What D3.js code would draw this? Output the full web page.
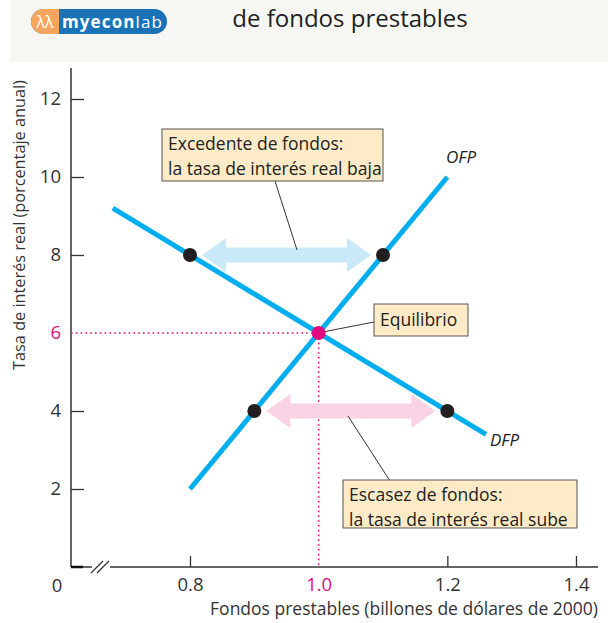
<!DOCTYPE html>
<html>
<head>
<meta charset="utf-8">
<script src="https://cdn.jsdelivr.net/npm/d3@7"></script>
<style>
  body { margin: 0; background: #fff; }
  svg text { font-family: "Open Sans", "DejaVu Sans", sans-serif; }
</style>
</head>
<body>
<svg id="chart" width="608" height="623"></svg>
<script>
// axis ticks
var rateTicks = [2, 4, 6, 8, 10, 12];
var fundTicks = [0.8, 1.0, 1.2, 1.4];

// demand (DFP) and supply (OFP) of loanable funds, end points
var dfpFunds = [0.68, 1.26];
var dfpRates = [9.2, 3.4];
var ofpFunds = [0.8, 1.2];
var ofpRates = [2, 10];

// equilibrium
var eqFunds = 1.0;
var eqRate = 6;

// surplus at 8%, shortage at 4%
var surplusFunds = [0.8, 1.1];
var surplusRate = 8;
var shortageFunds = [0.9, 1.2];
var shortageRate = 4;

var blue = '#00aeef', pink = '#e5097f';

var svg = d3.select('#chart');

var x = d3.scaleLinear().domain([0.8, 1.4]).range([190, 576]);
var y = d3.scaleLinear().domain([0, 12]).range([567, 99]);
var x0 = 71;

// header band
svg.append('rect').attr('x', 10).attr('y', 0).attr('width', 598).attr('height', 62).attr('fill', '#f6f7f3');

// logo
svg.append('rect').attr('x', 31).attr('y', 9).attr('width', 136).attr('height', 25).attr('rx', 12.5).attr('fill', '#1a73b7');
svg.append('path').attr('d', 'M59,9 H43.5 A12.5,12.5 0 0 0 43.5,34 H59 Z').attr('fill', '#f6a55e');
svg.append('text').attr('x', 45).attr('y', 28).attr('text-anchor', 'middle')
    .attr('font-size', 16).attr('fill', '#fff').text('\u03BB\u03BB');
svg.append('text').attr('x', 62).attr('y', 27.5).attr('font-size', 17).attr('fill', '#fff')
    .attr('textLength', 100)
    .html('<tspan font-weight="bold">myecon</tspan><tspan>lab</tspan>');

svg.append('text').attr('x', 350).attr('y', 27).attr('text-anchor', 'middle')
    .attr('font-size', 24).attr('fill', '#222').text('de fondos prestables');

// axes
var yAxis = d3.axisLeft(y).tickValues(rateTicks).tickSize(-13).tickPadding(10).tickFormat(d3.format('d'));
var gy = svg.append('g').attr('transform', 'translate(' + x0 + ',0)').call(yAxis);
gy.select('.domain').remove();
var xAxis = d3.axisBottom(x).tickValues(fundTicks).tickSize(-11).tickPadding(11).tickFormat(d3.format('.1f'));
var gx = svg.append('g').attr('transform', 'translate(0,' + y(0) + ')').call(xAxis);
gx.select('.domain').remove();

[gx, gy].forEach(function (g) {
    g.selectAll('line').attr('stroke', '#333').attr('stroke-width', 1.3);
    g.selectAll('text').attr('font-size', 18.5).attr('fill', '#333').attr('font-family', '"Open Sans", sans-serif');
});
gy.selectAll('.tick').filter(function (d) { return d === eqRate; }).select('line').remove();
gy.selectAll('.tick').filter(function (d) { return d === eqRate; }).select('text').attr('fill', pink);
gx.selectAll('.tick').filter(function (d) { return d === eqFunds; }).select('line').remove();
gx.selectAll('.tick').filter(function (d) { return d === eqFunds; }).select('text').attr('fill', pink);

svg.append('line').attr('x1', x0).attr('x2', x0).attr('y1', 68).attr('y2', y(0)).attr('stroke', '#333').attr('stroke-width', 1.5);
svg.append('line').attr('x1', x0).attr('x2', 598).attr('y1', y(0)).attr('y2', y(0)).attr('stroke', '#333').attr('stroke-width', 1.5);
svg.append('line').attr('x1', x0).attr('x2', 83).attr('y1', y(0)).attr('y2', y(0)).attr('stroke', '#111').attr('stroke-width', 2.5);
// axis break
svg.append('rect').attr('x', 92).attr('y', y(0) - 3).attr('width', 18).attr('height', 6).attr('fill', '#fff');
[0, 6].forEach(function (o) {
    svg.append('line').attr('x1', 91 + o).attr('y1', y(0) + 6).attr('x2', 103 + o).attr('y2', y(0) - 6)
        .attr('stroke', '#333').attr('stroke-width', 1.2);
});
svg.append('text').attr('x', 57).attr('y', 592).attr('text-anchor', 'middle')
    .attr('font-size', 18.5).attr('fill', '#333').text('0');

svg.append('text').attr('x', 598).attr('y', 615).attr('text-anchor', 'end')
    .attr('font-size', 17.5).attr('fill', '#333').text('Fondos prestables (billones de dólares de 2000)');
svg.append('text').attr('transform', 'translate(25,225) rotate(-90)').attr('text-anchor', 'middle')
    .attr('font-size', 16.3).attr('fill', '#333').text('Tasa de interés real (porcentaje anual)');

// dotted guides
svg.append('line').attr('x1', x0).attr('x2', x(eqFunds)).attr('y1', y(eqRate)).attr('y2', y(eqRate))
    .attr('stroke', pink).attr('stroke-width', 1.6).attr('stroke-dasharray', '1.6,3.2');
svg.append('line').attr('x1', x(eqFunds)).attr('x2', x(eqFunds)).attr('y1', y(eqRate)).attr('y2', y(0))
    .attr('stroke', pink).attr('stroke-width', 1.6).attr('stroke-dasharray', '1.6,3.2');

// double arrows
function dblArrow(xa, xb, yc, fill) {
    var a = x(xa) + 12, b = x(xb) - 12, hl = 24, hh = 17, sh = 7.5;
    var p = d3.path();
    p.moveTo(a, yc);
    p.lineTo(a + hl, yc - hh); p.lineTo(a + hl, yc - sh);
    p.lineTo(b - hl, yc - sh); p.lineTo(b - hl, yc - hh);
    p.lineTo(b, yc);
    p.lineTo(b - hl, yc + hh); p.lineTo(b - hl, yc + sh);
    p.lineTo(a + hl, yc + sh); p.lineTo(a + hl, yc + hh);
    p.closePath();
    svg.append('path').attr('d', p.toString()).attr('fill', fill);
}

// curves
var line = d3.line().x(function (d) { return x(d[0]); }).y(function (d) { return y(d[1]); });
svg.append('path').datum(d3.zip(dfpFunds, dfpRates)).attr('d', line)
    .attr('fill', 'none').attr('stroke', blue).attr('stroke-width', 5);
svg.append('path').datum(d3.zip(ofpFunds, ofpRates)).attr('d', line)
    .attr('fill', 'none').attr('stroke', blue).attr('stroke-width', 5);

dblArrow(surplusFunds[0], surplusFunds[1], y(surplusRate), '#c9e9f9');
dblArrow(shortageFunds[0], shortageFunds[1], y(shortageRate), '#f9d3e4');

svg.append('text').attr('x', 446).attr('y', 163).attr('font-size', 17).attr('font-style', 'italic')
    .attr('fill', '#222').text('OFP');
svg.append('text').attr('x', 490).attr('y', 446).attr('font-size', 17).attr('font-style', 'italic')
    .attr('fill', '#222').text('DFP');

// leader lines
var leaders = [[275, 181, 297, 250], [x(eqFunds) + 4, y(eqRate) - 1, 374, 322], [348, 416, 392, 484]];
svg.selectAll('.leader').data(leaders).enter().append('line').attr('class', 'leader')
    .attr('x1', function (d) { return d[0]; }).attr('y1', function (d) { return d[1]; })
    .attr('x2', function (d) { return d[2]; }).attr('y2', function (d) { return d[3]; })
    .attr('stroke', '#333').attr('stroke-width', 1);

// dots
var dots = [[surplusFunds[0], surplusRate], [surplusFunds[1], surplusRate],
            [shortageFunds[0], shortageRate], [shortageFunds[1], shortageRate]];
svg.selectAll('.dot').data(dots).enter().append('circle').attr('class', 'dot')
    .attr('cx', function (d) { return x(d[0]); }).attr('cy', function (d) { return y(d[1]); })
    .attr('r', 7).attr('fill', '#231f20');
svg.append('circle').attr('cx', x(eqFunds)).attr('cy', y(eqRate)).attr('r', 7).attr('fill', pink);

// label boxes
function box(x1, y1, w, h, lines) {
    svg.append('rect').attr('x', x1).attr('y', y1).attr('width', w).attr('height', h)
        .attr('fill', '#fdebc8').attr('stroke', '#555').attr('stroke-width', 1);
    lines.forEach(function (t, i) {
        svg.append('text').attr('x', x1 + 6).attr('y', y1 + (lines.length === 1 ? h / 2 + 6 : 21 + i * 25))
            .attr('font-size', 17.5).attr('fill', '#222').text(t);
    });
}
box(162, 129, 221, 52, ['Excedente de fondos:', 'la tasa de interés real baja']);
box(374, 304, 94, 32, ['Equilibrio']);
box(343, 480, 234, 48, ['Escasez de fondos:', 'la tasa de interés real sube']);
</script>
</body>
</html>
